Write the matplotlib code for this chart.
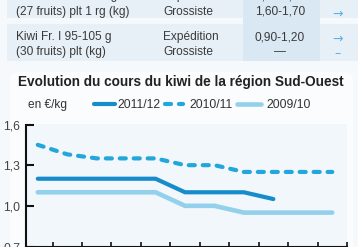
import matplotlib
matplotlib.use('Agg')
import matplotlib.pyplot as plt
from matplotlib.legend import Legend
from matplotlib.patches import Rectangle, FancyBboxPatch

plt.rcParams['font.family'] = ['Liberation Sans', 'DejaVu Sans']

# données (prix en €/kg, un point par semaine)
semaines_2011_12 = [0, 1, 2, 3, 4, 5, 6, 7, 8]
prix_2011_12 = [1.20, 1.20, 1.20, 1.20, 1.20, 1.10, 1.10, 1.10, 1.05]
semaines_2010_11 = [0, 1, 2, 3, 4, 5, 6, 7, 8, 9, 10]
prix_2010_11 = [1.45, 1.38, 1.35, 1.35, 1.35, 1.30, 1.30, 1.25, 1.25, 1.25, 1.25]
semaines_2009_10 = [0, 1, 2, 3, 4, 5, 6, 7, 8, 9, 10]
prix_2009_10 = [1.10, 1.10, 1.10, 1.10, 1.10, 1.00, 1.00, 0.95, 0.95, 0.95, 0.95]

y_ticks = [0.7, 1.0, 1.3, 1.6]
y_labels = ['0,7', '1,0', '1,3', '1,6']

# tableau du haut
produits = ['Kiwi Fr. I 105-115 g', '(27 fruits) plt 1 rg (kg)',
            'Kiwi Fr. I 95-105 g', '(30 fruits) plt (kg)']
stades = ['Expédition', 'Grossiste', 'Expédition', 'Grossiste']
cours = ['1,70-1,80', '1,60-1,70', '0,90-1,20', '—']
tendances = ['→', '→', '→', '–']

W, H = 358, 247
fig = plt.figure(figsize=(W / 100, H / 100), dpi=100, facecolor='#f6f9fb')


def fx(px):
    return px / W


def fy(py):
    return 1 - py / H


# fonds du tableau
for top, bottom in [(-5, 18), (24, 61)]:
    fig.patches.append(Rectangle((fx(7), fy(bottom)), fx(358) - fx(7), (bottom - top) / H,
                                 transform=fig.transFigure, facecolor='#e8f0f7', edgecolor='none', zorder=0))
fig.patches.append(Rectangle((fx(243), fy(61)), fx(320) - fx(243), 66 / H,
                             transform=fig.transFigure, facecolor='#dae8f3', edgecolor='none', zorder=0))
# cadre du graphique
fig.patches.append(FancyBboxPatch((fx(10), fy(260)), fx(353) - fx(10), 188 / H,
                                  boxstyle='round,pad=0,rounding_size=0.03',
                                  transform=fig.transFigure, facecolor='#fbfcfd', edgecolor='none', zorder=0))

lignes_y = [-4, 12, 37, 52]
for i, yy in enumerate(lignes_y):
    fig.text(fx(16), fy(yy), produits[i], va='center', fontsize=8.6, color='#3a3a3a')
    fig.text(fx(163), fy(yy), stades[i], va='center', fontsize=8.6, color='#3a3a3a')
    fig.text(fx(280), fy(yy), cours[i], va='center', ha='center', fontsize=8.6, color='#3a3a3a')
    fig.text(fx(338), fy(yy + 2), tendances[i], va='center', ha='center', fontsize=9,
             color='#5ab2e0', family='DejaVu Sans')

fig.text(fx(180.5), fy(82), 'Evolution du cours du kiwi de la région Sud-Ouest',
         ha='center', va='center', fontsize=9.8, fontweight='bold', color='#222222')
fig.text(fx(28), fy(105), 'en €/kg', va='center', fontsize=8.6, color='#333333')

ax = fig.add_axes([fx(26), fy(246.5), fx(347) - fx(26), (246.5 - 124.5) / H])
ax.set_zorder(5)
ax.set_facecolor('#f2f7fb')

l1, = ax.plot(semaines_2011_12, prix_2011_12, color='#168ccc', lw=3, solid_capstyle='round',
              solid_joinstyle='round', label='2011/12', zorder=3)
l2, = ax.plot(semaines_2010_11, prix_2010_11, color='#22a6dc', lw=3, linestyle=(0, (1.45, 1.9)),
              dash_capstyle='round', label='2010/11', zorder=3)
l3, = ax.plot(semaines_2009_10, prix_2009_10, color='#93d0ec', lw=3.3, solid_capstyle='round',
              solid_joinstyle='round', label='2009/10', zorder=2)

ax.set_xlim(-0.4, 10.5)
ax.set_ylim(0.7, 1.6)
ax.set_xticks([k + 0.5 for k in range(11)])
ax.set_yticks(y_ticks)
ax.set_yticklabels(y_labels)
ax.tick_params(axis='x', direction='in', length=3.5, width=1.2, labelbottom=False, color='#111111')
ax.tick_params(axis='y', direction='in', length=5.5, width=1.5, labelsize=8.8, pad=4,
               labelcolor='#444444', color='#111111')
for s in ['top', 'right']:
    ax.spines[s].set_visible(False)
for s in ['left', 'bottom']:
    ax.spines[s].set_linewidth(1.5)
    ax.spines[s].set_color('#111111')

# une légende par série pour placer chaque entrée comme sur l'original
# (début du trait, longueur du trait, écart au texte) en pixels
entrees = [(l1, 94, 21, 2), (l2, 165, 18, 6), (l3, 237, 24, 5)]
fs = 8.8
em = fs * 100 / 72
for h, x0, lg, pad in entrees:
    leg = Legend(ax, [h], [h.get_label()], loc='center left', bbox_to_anchor=(fx(x0), fy(105)),
                 bbox_transform=fig.transFigure, frameon=False, fontsize=fs,
                 handlelength=lg / em, handletextpad=pad / em, borderpad=0, borderaxespad=0)
    leg.get_texts()[0].set_color('#333333')
    ax.add_artist(leg)

fig.savefig('out.png', dpi=100, facecolor=fig.get_facecolor())
